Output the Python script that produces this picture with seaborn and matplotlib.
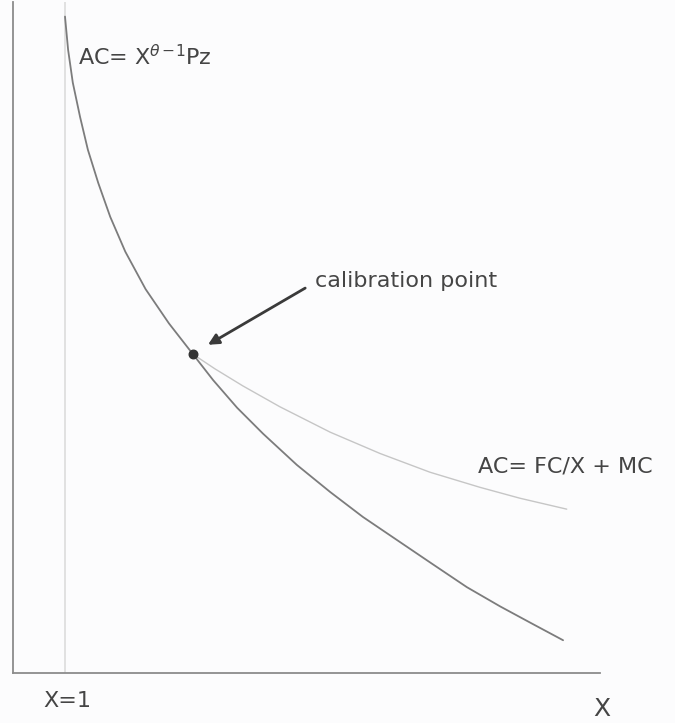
import pandas as pd
from matplotlib import pyplot as plt
import seaborn as sns

# curve values (x in units where X=1 is the guide line)
ac_power_x = [1.00, 1.06, 1.15, 1.29, 1.44, 1.64, 1.87, 2.16, 2.55, 3.00, 3.46, 3.85,
              4.31, 4.81, 5.46, 6.10, 6.73, 7.38, 8.06, 8.73, 9.37, 10.00, 10.58]
ac_power_y = [12.62, 11.98, 11.35, 10.69, 10.06, 9.42, 8.77, 8.10, 7.38, 6.72, 6.13, 5.63,
              5.10, 4.60, 4.00, 3.48, 3.00, 2.56, 2.10, 1.65, 1.28, 0.94, 0.63]

ac_linear_x = [3.46, 3.88, 4.42, 5.13, 6.10, 7.06, 8.02, 8.98, 9.75, 10.65]
ac_linear_y = [6.13, 5.85, 5.52, 5.12, 4.63, 4.22, 3.86, 3.57, 3.36, 3.15]

calib_x = 3.46
calib_y = 6.13

power = pd.DataFrame({'X': ac_power_x, 'AC': ac_power_y})
linear = pd.DataFrame({'X': ac_linear_x, 'AC': ac_linear_y})

sns.set_style('white')
plt.rcParams['font.family'] = ['DejaVu Sans']
plt.rcParams['mathtext.fontset'] = 'dejavusans'

fig = plt.figure(figsize=(6.75, 7.23), dpi=100)
fig.patch.set_facecolor('#fcfcfd')
ax = fig.add_axes([13/675, 50/723, 587/675, 671/723])
ax.set_facecolor('#fcfcfd')

# faint guide at X=1
ax.axvline(1.0, color='#dcdcdc', lw=1.2, zorder=1)

sns.lineplot(x='X', y='AC', data=power, color='#7c7c7c', lw=1.3, ax=ax, sort=False)
sns.lineplot(x='X', y='AC', data=linear, color='#c6c6c6', lw=1.0, ax=ax, sort=False)
ax.scatter([calib_x], [calib_y], s=38, color='#333333', zorder=5)

ax.annotate('', xy=(3.75, 6.31), xytext=(5.62, 7.40),
            arrowprops=dict(arrowstyle='-|>', color='#3a3a3a', lw=2,
                            mutation_scale=16, shrinkA=0, shrinkB=0))

txt = '#454545'
ax.text(1.25, 11.69, r'AC= X$^{\theta\,\mathrm{-1}}$Pz', fontsize=16, color=txt,
        va='baseline', ha='left')
ax.text(5.81, 7.42, 'calibration point', fontsize=16, color=txt, va='baseline', ha='left')
ax.text(8.94, 3.85, 'AC= FC/X + MC', fontsize=16, color=txt, va='baseline', ha='left')

ax.set_xlim(0, 11.29)
ax.set_ylim(0, 12.9)
ax.set_xticks([])
ax.set_yticks([])
ax.set_xlabel('')
ax.set_ylabel('')
sns.despine(ax=ax)
for s in ['left', 'bottom']:
    ax.spines[s].set_color('#8c8c8c')
    ax.spines[s].set_linewidth(1.3)

fig.text(43/675, 1 - 707/723, 'X=1', fontsize=16, color=txt, ha='left', va='baseline')
fig.text(602/675, 1 - 697/723, 'X', fontsize=18, color=txt, ha='center', va='top')

fig.savefig('out.png', dpi=100, facecolor=fig.get_facecolor())
